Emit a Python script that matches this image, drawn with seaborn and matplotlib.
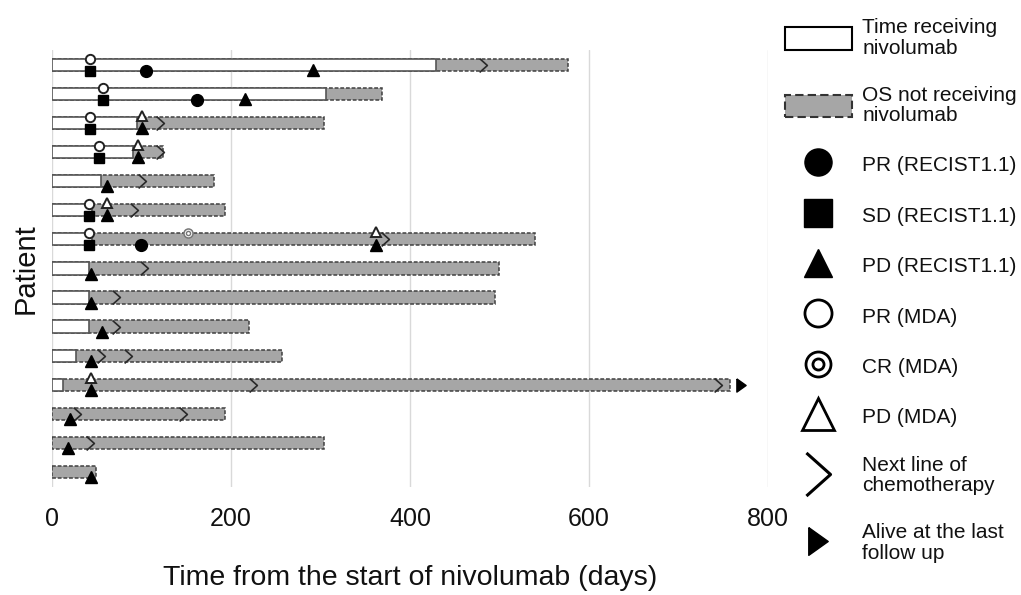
import numpy as np
import pandas as pd
import matplotlib
matplotlib.use('Agg')
import matplotlib.pyplot as plt
import seaborn as sns
from matplotlib.path import Path
from matplotlib.patches import Patch
from matplotlib.lines import Line2D

# Dados (dias desde o início do nivolumab)
patients = [f'P{i}' for i in range(1, 16)]
nivo_days = [429, 306, 95, 90, 55, 45, 45, 41, 41, 41, 27, 12, 0, 0, 0]
os_days = [576, 369, 304, 124, 181, 193, 540, 500, 495, 220, 257, 757, 193, 304, 49]

# Eventos: número do paciente e dia
pr_recist_pt = [1, 2, 7]
pr_recist_day = [105, 162, 100]
sd_recist_pt = [1, 2, 3, 4, 6, 7]
sd_recist_day = [43, 57, 43, 52, 41, 41]
pd_recist_pt = [1, 2, 3, 4, 5, 6, 7, 8, 9, 10, 11, 12, 13, 14, 15]
pd_recist_day = [292, 216, 101, 96, 61, 61, 362, 44, 44, 56, 44, 44, 20, 18, 44]
pr_mda_pt = [1, 2, 3, 4, 6, 7]
pr_mda_day = [43, 57, 43, 52, 41, 41]
cr_mda_pt = [7]
cr_mda_day = [152]
pd_mda_pt = [3, 4, 6, 7, 12]
pd_mda_day = [101, 96, 61, 362, 44]
next_line_pt = [1, 3, 4, 5, 6, 7, 8, 9, 10, 11, 11, 12, 12, 13, 13, 14]
next_line_day = [482, 121, 121, 101, 92, 372, 103, 72, 72, 55, 85, 225, 744, 28, 146, 43]
alive_pt = [12]
alive_day = [770]

sns.set_theme(style="whitegrid")
plt.rcParams['font.family'] = ['Liberation Sans', 'DejaVu Sans']
plt.rcParams['text.color'] = '#111111'
plt.rcParams['xtick.color'] = '#111111'
plt.rcParams['axes.labelcolor'] = '#111111'

fig = plt.figure(figsize=(10.21, 5.95), dpi=100)
ax = fig.add_axes([0.0509, 0.1822, 0.7013, 0.7334])

bars = pd.DataFrame({'patient': patients, 'nivo': nivo_days, 'os': os_days})

# Barra cinza (sobrevida total) e barra branca (tempo recebendo nivolumab) por cima
sns.barplot(data=bars, x='os', y='patient', order=patients, orient='h',
            color='#a6a6a6', saturation=1, width=0.42, edgecolor='#404040',
            linewidth=1.1, linestyle=(0, (2.5, 1.2)), errorbar=None, ax=ax)
sns.barplot(data=bars[bars['nivo'] > 0], x='nivo', y='patient', order=patients, orient='h',
            color='white', saturation=1, width=0.42, edgecolor='#555555',
            linewidth=1.2, errorbar=None, ax=ax)

def rows(pts, off=0.0):
    return np.array(pts) - 1 + off

off = 0.21
chev = Path([(-0.28, 0.5), (0.28, 0.0), (-0.28, -0.5)],
            [Path.MOVETO, Path.LINETO, Path.LINETO])
alive_marker = [(-0.35, 0.5), (0.35, 0.0), (-0.35, -0.5), (-0.35, 0.5)]

kw = dict(linestyle='none', clip_on=False, zorder=4)
ax.plot(next_line_day, rows(next_line_pt), marker=chev, ms=10, mfc='none', mec='#2a2a2a', mew=1.2, **kw)
ax.plot(pr_recist_day, rows(pr_recist_pt, off), marker='o', ms=8.5, color='black', **kw)
ax.plot(sd_recist_day, rows(sd_recist_pt, off), marker='s', ms=7, color='black', **kw)
ax.plot(pd_recist_day, rows(pd_recist_pt, off - 0.03), marker='^', ms=8.3, color='black', **kw)
ax.plot(pr_mda_day, rows(pr_mda_pt, -off), marker='o', ms=6.7, mfc='white', mec='#222222', mew=1.4, **kw)
ax.plot(cr_mda_day, rows(cr_mda_pt, -off), marker='o', ms=6.5, mfc='white', mec='#777777', mew=1.1, **kw)
ax.plot(cr_mda_day, rows(cr_mda_pt, -off), marker='o', ms=3, mfc='none', mec='#777777', mew=1.0, **kw)
ax.plot(pd_mda_day, rows(pd_mda_pt, -off - 0.03), marker='^', ms=7.5, mfc='white', mec='#222222', mew=1.4, **kw)
ax.plot(alive_day, rows(alive_pt), marker=alive_marker, ms=9.5, color='black', **kw)

ax.set_xlim(0, 800)
ax.set_ylim(14.5, -0.5)
ax.set_xticks([0, 200, 400, 600, 800])
ax.set_yticks([])
ax.xaxis.grid(True, color='#d9d9d9', linewidth=1.0)
ax.yaxis.grid(False)
for s in ax.spines.values():
    s.set_visible(False)
ax.tick_params(axis='x', labelsize=18, pad=15, length=0)
ax.set_xlabel('Time from the start of nivolumab (days)', fontsize=20.5, labelpad=24)
ax.set_ylabel('Patient', fontsize=21, labelpad=9)

# Legenda
handles = [
    Patch(facecolor='white', edgecolor='black', linewidth=1.5),
    Patch(facecolor='#a6a6a6', edgecolor='#333333', linewidth=1.5, linestyle=(0, (4, 2))),
    Line2D([], [], linestyle='none', marker='o', ms=19.5, color='black'),
    Line2D([], [], linestyle='none', marker='s', ms=20, color='black'),
    Line2D([], [], linestyle='none', marker='^', ms=20, color='black'),
    Line2D([], [], linestyle='none', marker='o', ms=19.5, mfc='none', mec='black', mew=2),
    (Line2D([], [], linestyle='none', marker='o', ms=18, mfc='none', mec='black', mew=2),
     Line2D([], [], linestyle='none', marker='o', ms=8, mfc='none', mec='black', mew=2)),
    Line2D([], [], linestyle='none', marker='^', ms=23, mfc='none', mec='black', mew=2),
    Line2D([], [], linestyle='none', marker=chev, ms=31, mfc='none', mec='black', mew=2.2),
    Line2D([], [], linestyle='none', marker=alive_marker, ms=20, color='black'),
]
labels = ['Time receiving\nnivolumab', 'OS not receiving\nnivolumab',
          'PR (RECIST1.1)', 'SD (RECIST1.1)', 'PD (RECIST1.1)',
          'PR (MDA)', 'CR (MDA)', 'PD (MDA)',
          'Next line of\nchemotherapy', 'Alive at the last\nfollow up']
leg = fig.legend(handles, labels, loc='upper left', bbox_to_anchor=(785 / 1021, 1 - 18 / 595),
                 frameon=False, fontsize=15, handlelength=3.2, handleheight=1.3,
                 handletextpad=0.5, labelspacing=1.33, borderpad=0, borderaxespad=0)
for t in leg.get_texts():
    t.set_linespacing(1.12)

fig.savefig('out.png', dpi=100)
